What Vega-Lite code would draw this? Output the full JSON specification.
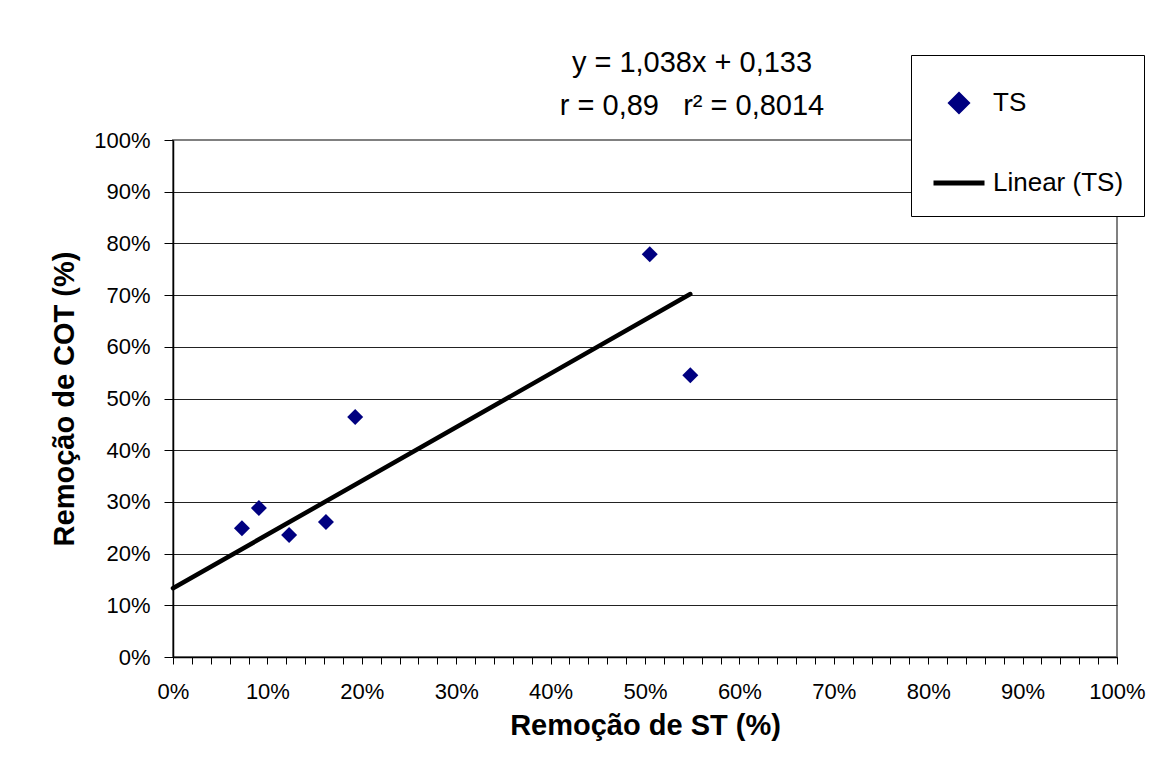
{
  "$schema": "https://vega.github.io/schema/vega-lite/v6.json",
  "width": 944,
  "height": 517,
  "autosize": {"type": "none"},
  "padding": {"left": 173, "top": 140, "right": 32, "bottom": 126},
  "background": "white",
  "config": {
    "font": "Liberation Sans",
    "view": {"stroke": "#808080", "strokeWidth": 2}
  },
  "title": {
    "text": ["y = 1,038x + 0,133", "r = 0,89\u00a0\u00a0\u00a0r² = 0,8014"],
    "fontSize": 29,
    "fontWeight": "normal",
    "color": "#000000",
    "anchor": "middle",
    "frame": "group",
    "dx": 47,
    "offset": -66,
    "lineHeight": 43
  },
  "data": {
    "values": [
      {"series": "TS", "st": 0.073, "cot": 0.249},
      {"series": "TS", "st": 0.091, "cot": 0.288},
      {"series": "TS", "st": 0.123, "cot": 0.236},
      {"series": "TS", "st": 0.162, "cot": 0.261},
      {"series": "TS", "st": 0.193, "cot": 0.464},
      {"series": "TS", "st": 0.505, "cot": 0.779},
      {"series": "TS", "st": 0.548, "cot": 0.545},
      {"series": "Linear (TS)", "st": 0.0, "cot": 0.133},
      {"series": "Linear (TS)", "st": 0.548, "cot": 0.702}
    ]
  },
  "encoding": {
    "x": {
      "field": "st",
      "type": "quantitative",
      "scale": {"domain": [0, 1], "nice": false, "zero": true},
      "axis": {
        "title": "Remoção de ST (%)",
        "titleFontSize": 29,
        "titleFontWeight": "bold",
        "titleColor": "#000000",
        "titlePadding": 9,
        "values": [0,0.02,0.04,0.06,0.08,0.1,0.12,0.14,0.16,0.18,0.2,0.22,0.24,0.26,0.28,0.3,0.32,0.34,0.36,0.38,0.4,0.42,0.44,0.46,0.48,0.5,0.52,0.54,0.56,0.58,0.6,0.62,0.64,0.66,0.68,0.7,0.72,0.74,0.76,0.78,0.8,0.82,0.84,0.86,0.88,0.9,0.92,0.94,0.96,0.98,1],
        "format": ".0%",
        "labelExpr": "round(datum.value*100) % 10 === 0 ? datum.label : ''",
        "labelFontSize": 22,
        "labelColor": "#000000",
        "labelPadding": 17,
        "labelFlush": false,
        "labelOverlap": false,
        "tickSize": 7,
        "tickColor": "#000000",
        "domainColor": "#000000",
        "domainWidth": 1.5,
        "grid": false
      }
    },
    "y": {
      "field": "cot",
      "type": "quantitative",
      "scale": {"domain": [0, 1], "nice": false, "zero": true},
      "axis": {
        "title": "Remoção de COT (%)",
        "titleFontSize": 29,
        "titleFontWeight": "bold",
        "titleColor": "#000000",
        "titlePadding": 14,
        "values": [0,0.1,0.2,0.3,0.4,0.5,0.6,0.7,0.8,0.9,1],
        "format": ".0%",
        "labelFontSize": 22,
        "labelColor": "#000000",
        "labelPadding": 14,
        "labelFlush": false,
        "labelOverlap": false,
        "tickSize": 9,
        "tickColor": "#000000",
        "domainColor": "#000000",
        "domainWidth": 1.5,
        "grid": true,
        "gridColor": {"condition": {"test": "datum.value > 0.99", "value": "#808080"}, "value": "#222222"},
        "gridWidth": 1
      }
    },
    "color": {
      "field": "series",
      "type": "nominal",
      "scale": {"domain": ["TS", "Linear (TS)"], "range": ["#000080", "#000000"]},
      "legend": {
        "title": null,
        "orient": "none",
        "legendX": 738,
        "legendY": -85,
        "strokeColor": "#000000",
        "fillColor": "#ffffff",
        "padding": 20,
        "rowPadding": 34,
        "symbolSize": 2601,
        "symbolStrokeWidth": 5,
        "labelFontSize": 26,
        "labelColor": "#000000",
        "labelOffset": 6,
        "labelLimit": 300,
        "encode": {
          "symbols": {
            "update": {
              "shape": {"signal": "datum.value === 'TS' ? 'diamond' : 'stroke'"},
              "size": {"signal": "datum.value === 'TS' ? 256 : 2601"},
              "fill": {"signal": "datum.value === 'TS' ? '#000080' : 'transparent'"},
              "stroke": {"signal": "datum.value === 'TS' ? 'transparent' : '#000000'"}
            }
          }
        }
      }
    }
  },
  "layer": [
    {
      "transform": [{"filter": "datum.series === 'Linear (TS)'"}],
      "mark": {"type": "line", "strokeWidth": 4.5, "strokeCap": "round"}
    },
    {
      "transform": [{"filter": "datum.series === 'TS'"}],
      "mark": {"type": "point", "shape": "diamond", "filled": true, "size": 256, "opacity": 1}
    }
  ]
}
